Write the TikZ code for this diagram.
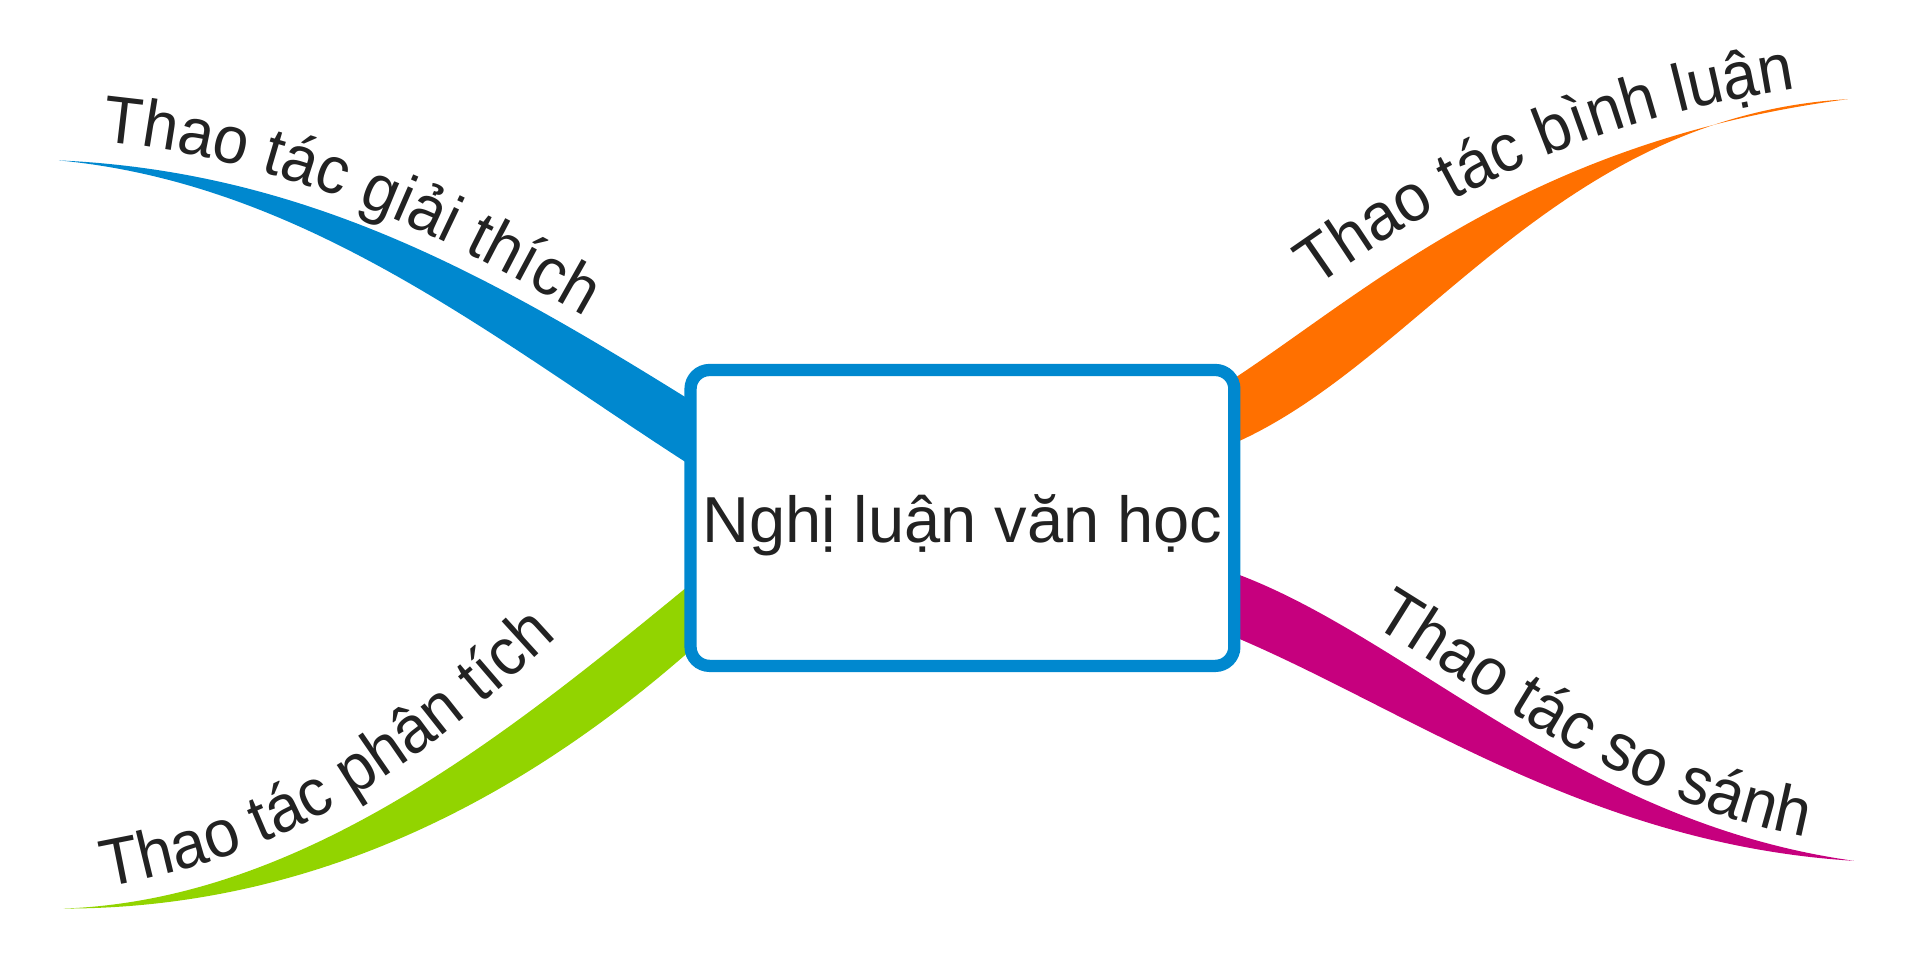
\documentclass[tikz,border=0pt]{standalone}
\usepackage{fontspec}
\setmainfont{Liberation Sans}
\newfontfamily\branchfamily[FakeStretch=0.95]{Liberation Sans}
\usetikzlibrary{decorations.text}

\definecolor{mapblue}{HTML}{0088CF}
\definecolor{maporange}{HTML}{FF7000}
\definecolor{mapgreen}{HTML}{92D400}
\definecolor{mapmagenta}{HTML}{C6007E}
\definecolor{ink}{HTML}{222222}

\newcommand{\hubfont}{\fontsize{18.5}{22}\selectfont}
\newcommand{\branchfont}{\branchfamily\fontsize{19}{23}\selectfont}

\begin{document}
\begin{tikzpicture}[
    x=0.1225mm, y=-0.1225mm,
    hub/.style={rectangle, draw=mapblue, line width=1.225mm, rounded corners=1.9mm, fill=white,
        minimum width=54.4mm, minimum height=29.6mm, inner sep=0pt, font=\hubfont, text=ink,
        text height=8mm, text depth=3mm},
    branchtext/.style 2 args={decorate, decoration={text along path, text color=ink,
        text align={left indent=#1}, text={|\branchfont|#2}}}
]
    \useasboundingbox (0,0) rectangle (1568,798);

    % Tips of the four branches
    \coordinate (tipA) at (48,131);
    \coordinate (tipB) at (1509,81);
    \coordinate (tipC) at (52,742);
    \coordinate (tipD) at (1514,703);

    % Where they meet the box
    \coordinate (a1) at (564,327);  \coordinate (a2) at (564,380);
    \coordinate (b1) at (1008,309); \coordinate (b2) at (1008,362);
    \coordinate (c1) at (564,477);  \coordinate (c2) at (564,531);
    \coordinate (d1) at (1008,468); \coordinate (d2) at (1008,520);

    % Branches
    \fill[mapblue] (tipA) .. controls (250,140) and (400,225) .. (a1) -- (a2)
        .. controls (405,278) and (250,150) .. (tipA) -- cycle;
    \fill[maporange] (b1) .. controls (1120,235) and (1250,115) .. (tipB)
        .. controls (1270,95) and (1160,295) .. (b2) -- cycle;
    \fill[mapgreen] (tipC) .. controls (250,735) and (420,595) .. (c1) -- (c2)
        .. controls (440,640) and (270,742) .. (tipC) -- cycle;
    \fill[mapmagenta] (d1) .. controls (1150,520) and (1290,672) .. (tipD)
        .. controls (1300,690) and (1150,580) .. (d2) -- cycle;

    % Centre
    \node[hub] (hub) at (786,423) {Nghị luận văn học};

    % Labels along the branches
    \path[branchtext={4.3mm}{Thao tác giải thích}]
        (48,113) .. controls (250,122) and (400,213) .. (564,309);
    \path[branchtext={12mm}{Thao tác bình luận}]
        (995,292) .. controls (1137,190) and (1245,100) .. (1509,66);
    \path[branchtext={4.2mm}{Thao tác phân tích}]
        (52,730) .. controls (230,705) and (330,645) .. (520,458);
    \path[branchtext={14.5mm}{Thao tác so sánh}]
        (1015,456) .. controls (1157,508) and (1297,665) .. (1514,690);
\end{tikzpicture}
\end{document}
